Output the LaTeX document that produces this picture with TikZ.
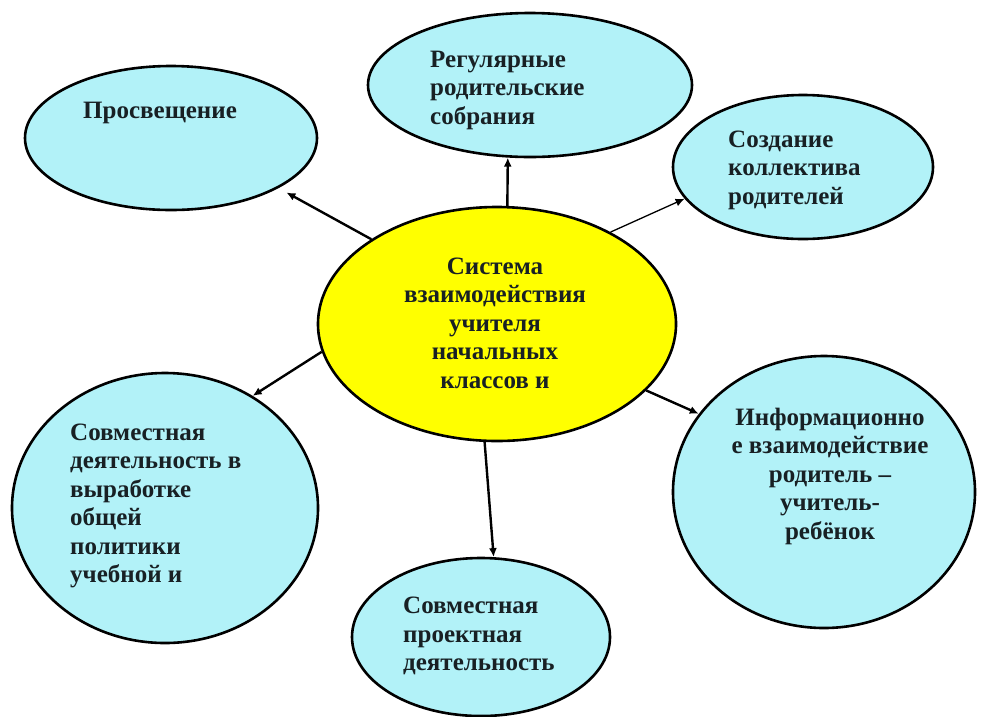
\documentclass[tikz,border=0pt]{standalone}
\usepackage{fontspec}
\setmainfont{Liberation Serif}
\usetikzlibrary{shapes.geometric,arrows.meta}
\definecolor{bubblecyan}{RGB}{178,242,248}
\definecolor{coreyellow}{RGB}{255,255,0}
\definecolor{inkdark}{RGB}{24,32,36}
\tikzstyle{bubble}=[
    draw = black,
    line width = 2.6pt,
    fill = bubblecyan,
    ellipse,
    inner sep = 0pt
]
\tikzstyle{core}=[bubble, fill = coreyellow]
\tikzstyle{lbl}=[
    font = \bfseries\fontsize{25}{28.5}\selectfont,
    text = inkdark,
    inner sep = 0pt
]
\tikzstyle{link}=[line width = 2.4pt, -{Latex[length=9pt,width=8pt]}]

\begin{document}
\begin{tikzpicture}[x=1pt, y=-1pt]
    \useasboundingbox[fill=white] (0,0) rectangle (984,716);

    % bubbles
    \node[core, minimum width=358pt, minimum height=234pt] (centre) at (497,324) {};
    \node[bubble, minimum width=292pt, minimum height=144pt] (prosv) at (171,138) {};
    \node[bubble, minimum width=324pt, minimum height=144pt] (sobr) at (530,85) {};
    \node[bubble, minimum width=260pt, minimum height=144pt] (koll) at (803,167) {};
    \node[bubble, minimum width=306pt, minimum height=270pt] (polit) at (165,508) {};
    \node[bubble, minimum width=302pt, minimum height=272pt] (inform) at (824,492) {};
    \node[bubble, minimum width=258pt, minimum height=158pt] (proekt) at (481,637) {};

    % texts
    \node[lbl, align=center] (centre-t) at (495,323) {Система\\взаимодействия\\учителя\\начальных\\классов и};
    \node[lbl, anchor=west] (prosv-t) at (83,113) {Просвещение};
    \node[lbl, align=left, anchor=west] (sobr-t) at (430,90) {Регулярные\\родительские\\собрания};
    \node[lbl, align=left, anchor=west] (koll-t) at (728,170) {Создание\\коллектива\\родителей};
    \node[lbl, align=left, anchor=west] (polit-t) at (70,506) {Совместная\\деятельность в\\выработке\\общей\\политики\\учебной и};
    \node[lbl, align=center] (inform-t) at (830,476) {Информационно\\е взаимодействие\\родитель –\\учитель-\\ребёнок};
    \node[lbl, align=left, anchor=west] (proekt-t) at (403,636) {Совместная\\проектная\\деятельность};

    % arrows
    \draw[link, shorten >=9pt] (centre.146) -- (prosv.335);
    \draw[link] (centre.85) -- (sobr.253);
    \draw[link, line width=1.3pt] (centre.39) -- (koll.195);
    \draw[link] (centre.189) -- (polit.52);
    \draw[link] (centre.336) -- (inform.148);
    \draw[link] (centre.264) -- (proekt.81);
\end{tikzpicture}
\end{document}
